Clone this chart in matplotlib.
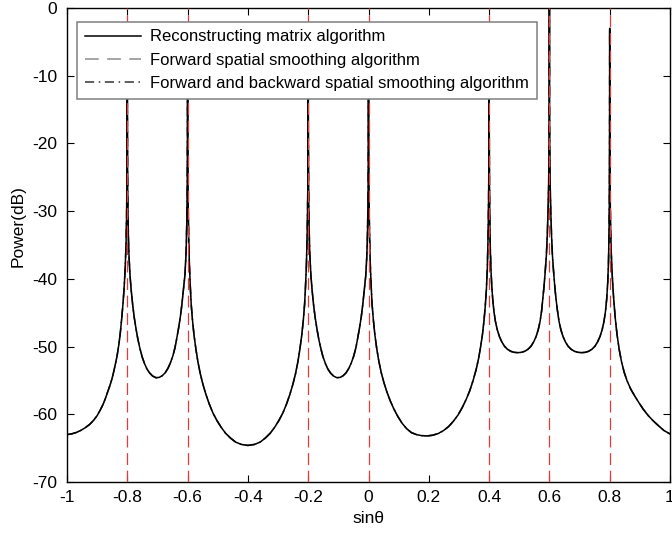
import matplotlib
matplotlib.use("Agg")
import matplotlib.pyplot as plt

plt.rcParams['font.family'] = ['Liberation Sans', 'DejaVu Sans']

# true source directions (sin theta)
true_doa = [-0.8, -0.6, -0.2, 0.0, 0.4, 0.6, 0.8]

# spatial spectrum, segment by segment
sin_theta = [
    # -1 .. -0.8
    -1.000, -0.985, -0.970, -0.955, -0.940, -0.925, -0.912, -0.900, -0.890, -0.880,
    -0.873, -0.866, -0.858, -0.851, -0.845, -0.840, -0.834, -0.828, -0.823, -0.818,
    -0.814, -0.811, -0.808, -0.806, -0.804, -0.8025, -0.8013, -0.8005, -0.800,
    # -0.8 .. -0.6
    -0.7995, -0.7987, -0.7975, -0.796, -0.794, -0.791, -0.787, -0.782, -0.777, -0.771,
    -0.765, -0.758, -0.751, -0.743, -0.735, -0.726, -0.716, -0.705, -0.694, -0.684,
    -0.674, -0.665, -0.657, -0.649, -0.642, -0.636, -0.630, -0.624, -0.619, -0.614,
    -0.609, -0.606, -0.604, -0.6025, -0.6013, -0.6005, -0.600,
    # -0.6 .. -0.2
    -0.5995, -0.5987, -0.5975, -0.596, -0.594, -0.591, -0.588, -0.584, -0.579, -0.573,
    -0.566, -0.558, -0.549, -0.539, -0.528, -0.516, -0.503, -0.489, -0.474, -0.458,
    -0.441, -0.422, -0.400, -0.378, -0.359, -0.342, -0.326, -0.311, -0.297, -0.284,
    -0.272, -0.261, -0.251, -0.242, -0.234, -0.227, -0.221, -0.216, -0.212, -0.209,
    -0.206, -0.204, -0.2025, -0.2013, -0.2005, -0.200,
    # -0.2 .. 0
    -0.1995, -0.1987, -0.1975, -0.196, -0.194, -0.191, -0.187, -0.182, -0.177, -0.171,
    -0.165, -0.158, -0.151, -0.143, -0.135, -0.126, -0.116, -0.105, -0.094, -0.084,
    -0.074, -0.065, -0.057, -0.049, -0.042, -0.036, -0.030, -0.024, -0.019, -0.014,
    -0.009, -0.006, -0.004, -0.0025, -0.0013, -0.0005, 0.000,
    # 0 .. 0.4
    0.0005, 0.0013, 0.0025, 0.004, 0.006, 0.009, 0.012, 0.016, 0.021, 0.027,
    0.034, 0.042, 0.051, 0.061, 0.072, 0.084, 0.097, 0.111, 0.126, 0.142,
    0.159, 0.176, 0.193, 0.212, 0.231, 0.249, 0.266, 0.282, 0.297, 0.311,
    0.324, 0.336, 0.347, 0.357, 0.365, 0.372, 0.378, 0.383, 0.387, 0.391,
    0.394, 0.396, 0.3975, 0.3987, 0.3995, 0.400,
    # 0.4 .. 0.6
    0.4005, 0.4013, 0.4025, 0.404, 0.406, 0.409, 0.412, 0.416, 0.421, 0.427,
    0.434, 0.442, 0.451, 0.461, 0.472, 0.483, 0.495, 0.507, 0.518, 0.529,
    0.539, 0.548, 0.556, 0.563, 0.569, 0.574, 0.578, 0.582, 0.586, 0.590,
    0.593, 0.5955, 0.5975, 0.599, 0.5997, 0.600,
    # 0.6 .. 0.8
    0.6003, 0.601, 0.6025, 0.6045, 0.607, 0.610, 0.614, 0.618, 0.622, 0.627,
    0.632, 0.638, 0.645, 0.653, 0.662, 0.672, 0.683, 0.695, 0.707, 0.719,
    0.730, 0.741, 0.751, 0.760, 0.768, 0.775, 0.781, 0.786, 0.790, 0.7935,
    0.796, 0.7975, 0.7987, 0.7995, 0.800,
    # 0.8 .. 1
    0.8005, 0.8013, 0.8025, 0.804, 0.806, 0.809, 0.813, 0.818, 0.824, 0.831,
    0.839, 0.848, 0.858, 0.870, 0.883, 0.897, 0.912, 0.928, 0.945, 0.962,
    0.980, 1.000,
]

power_db = [
    # -1 .. -0.8
    -63.0, -62.9, -62.7, -62.4, -62.0, -61.5, -60.9, -60.2, -59.4, -58.5,
    -57.7, -56.8, -55.8, -54.8, -53.7, -52.7, -51.4, -49.7, -47.9, -45.6,
    -43.5, -41.6, -39.3, -37.2, -34.5, -31.0, -26.5, -18.0, -6.0,
    # -0.8 .. -0.6
    -18.0, -26.5, -31.0, -34.5, -37.0, -39.5, -41.7, -43.9, -45.7, -47.4,
    -48.9, -50.3, -51.5, -52.5, -53.3, -53.9, -54.35, -54.6, -54.55, -54.3,
    -53.85, -53.2, -52.4, -51.4, -50.2, -48.8, -47.3, -45.6, -43.8, -41.7,
    -39.5, -37.0, -34.5, -31.0, -26.5, -18.0, -5.0,
    # -0.6 .. -0.2
    -18.0, -26.5, -31.0, -34.5, -38.0, -41.2, -43.8, -46.0, -48.2, -50.2,
    -52.2, -54.0, -55.6, -57.1, -58.5, -59.8, -60.9, -61.9, -62.8, -63.5,
    -64.1, -64.45, -64.6, -64.45, -64.1, -63.5, -62.8, -61.9, -60.9, -59.8,
    -58.5, -57.1, -55.6, -54.0, -52.2, -50.2, -48.2, -46.0, -43.8, -41.2,
    -38.0, -34.5, -31.0, -26.5, -18.0, -5.0,
    # -0.2 .. 0
    -18.0, -26.5, -31.0, -34.5, -37.0, -39.5, -41.7, -43.9, -45.7, -47.4,
    -48.9, -50.3, -51.5, -52.5, -53.3, -53.9, -54.35, -54.6, -54.55, -54.3,
    -53.85, -53.2, -52.4, -51.4, -50.2, -48.8, -47.3, -45.6, -43.8, -41.7,
    -39.5, -37.0, -34.5, -31.0, -26.5, -18.0, -5.0,
    # 0 .. 0.4
    -18.0, -26.5, -31.0, -34.5, -38.0, -41.2, -43.8, -46.0, -48.2, -50.2,
    -52.1, -53.8, -55.3, -56.7, -58.0, -59.2, -60.3, -61.3, -62.1, -62.7,
    -63.0, -63.15, -63.2, -63.1, -62.85, -62.4, -61.8, -61.0, -60.1, -59.0,
    -57.8, -56.5, -55.0, -53.4, -51.8, -50.0, -48.2, -46.2, -44.2, -41.6,
    -38.5, -35.0, -31.0, -26.5, -18.0, -6.0,
    # 0.4 .. 0.6
    -18.0, -26.5, -31.5, -35.5, -38.5, -41.2, -43.0, -44.8, -46.3, -47.5,
    -48.5, -49.3, -49.95, -50.4, -50.7, -50.85, -50.9, -50.85, -50.7, -50.4,
    -49.95, -49.3, -48.5, -47.5, -46.3, -44.8, -43.0, -41.2, -39.0, -36.5,
    -33.5, -30.0, -26.0, -20.0, -12.0, 1.0,
    # 0.6 .. 0.8
    -12.0, -20.0, -26.0, -30.0, -33.5, -36.5, -39.0, -41.2, -43.0, -44.8,
    -46.3, -47.5, -48.5, -49.3, -49.95, -50.4, -50.7, -50.85, -50.9, -50.85,
    -50.7, -50.4, -49.95, -49.3, -48.5, -47.5, -46.3, -44.8, -43.0, -40.5,
    -37.5, -34.0, -29.0, -20.0, -3.0,
    # 0.8 .. 1
    -18.0, -26.5, -31.0, -34.5, -37.2, -40.0, -42.8, -45.6, -48.1, -50.3,
    -52.2, -53.8, -55.1, -56.3, -57.3, -58.3, -59.3, -60.2, -61.0, -61.7,
    -62.4, -62.9,
]

# the three methods overlap on this scale
rm_db = power_db
fss_db = power_db
fbss_db = power_db

xticks = [-1, -0.8, -0.6, -0.4, -0.2, 0, 0.2, 0.4, 0.6, 0.8, 1]
xtick_labels = ['-1', '-0.8', '-0.6', '-0.4', '-0.2', '0', '0.2', '0.4', '0.6', '0.8', '1']
yticks = [-70, -60, -50, -40, -30, -20, -10, 0]
ytick_labels = ['-70', '-60', '-50', '-40', '-30', '-20', '-10', '0']

fig = plt.figure(figsize=(6.72, 5.46), dpi=100)
ax = fig.add_axes([67 / 672, 1 - 482 / 546, 603 / 672, 474 / 546])

ax.plot(sin_theta, fss_db, color='#8c8c8c', lw=1.1, linestyle=(0, (9, 5.5)),
        label='Forward spatial smoothing algorithm', zorder=2)
ax.plot(sin_theta, fbss_db, color='#333333', lw=1.1, linestyle=(0, (6, 3, 1, 3)),
        label='Forward and backward spatial smoothing algorithm', zorder=2)
ax.plot(sin_theta, rm_db, color='black', lw=1.1,
        label='Reconstructing matrix algorithm', zorder=3)

for d in true_doa:
    ax.axvline(d, color='#e03c3c', lw=0.9, linestyle=(0, (9.5, 4.5)), zorder=4)

ax.set_xlim(-1, 1)
ax.set_ylim(-70, 0)
ax.set_xticks(xticks)
ax.set_xticklabels(xtick_labels)
ax.set_yticks(yticks)
ax.set_yticklabels(ytick_labels)
ax.tick_params(direction='in', top=True, right=True, length=5, width=0.8,
               labelsize=12.5)
ax.tick_params(axis='x', pad=6)
ax.tick_params(axis='y', pad=7)
for s in ax.spines.values():
    s.set_linewidth(1.0)

ax.set_xlabel('sinθ', fontsize=12.5)
ax.set_ylabel('Power(dB)', fontsize=12.5)
ax.yaxis.set_label_coords(-0.068, 0.539)

h, l = ax.get_legend_handles_labels()
order = [2, 0, 1]
leg = ax.legend([h[i] for i in order], [l[i] for i in order],
                loc='upper left', bbox_to_anchor=(10 / 603, 1 - 14 / 474),
                borderaxespad=0, fontsize=12, fancybox=False, framealpha=1,
                edgecolor='#7f7f7f', handlelength=3.4, handletextpad=0.55,
                labelspacing=0.5, borderpad=0.45)
leg.get_frame().set_linewidth(1.1)
leg.set_zorder(10)

fig.savefig('out.png', dpi=100)
